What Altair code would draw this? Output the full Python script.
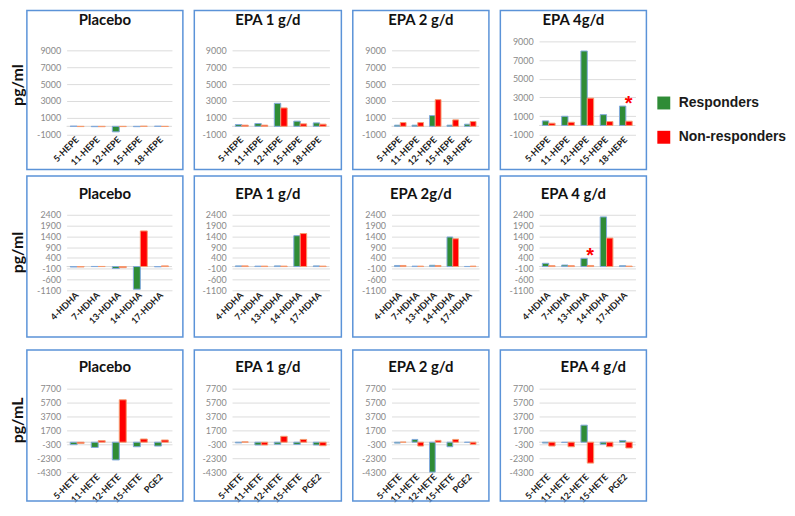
import altair as alt
import pandas as pd

SERIES = ["Responders", "Non-responders"]
FILL = ["#2f8c36", "#ff0000"]
EDGE = ["#82a9dc", "#f59a6e"]
FRAME = "#5b93d8"

HEPE = ["5-HEPE", "11-HEPE", "12-HEPE", "15-HEPE", "18-HEPE"]
HDHA = ["4-HDHA", "7-HDHA", "13-HDHA", "14-HDHA", "17-HDHA"]
HETE = ["5-HETE", "11-HETE", "12-HETE", "15-HETE", "PGE2"]

ROW1_TITLES = ["Placebo", "EPA 1 g/d", "EPA 2 g/d", "EPA 4g/d"]
ROW2_TITLES = ["Placebo", "EPA 1 g/d", "EPA 2g/d", "EPA 4 g/d"]
ROW3_TITLES = ["Placebo", "EPA 1 g/d", "EPA 2 g/d", "EPA 4 g/d"]
UNITS = ["pg/ml", "pg/ml", "pg/mL"]

HEPE_TICKS = [-1000, 1000, 3000, 5000, 7000, 9000]
HDHA_TICKS = [-1100, -600, -100, 400, 900, 1400, 1900, 2400]
HETE_TICKS = [-4300, -2300, -300, 1700, 3700, 5700, 7700]

# HEPE (row 1): responders / non-responders
hepe_pl_r = [20, -40, -650, -40, 10]
hepe_pl_n = [-30, -40, -30, 10, -20]
hepe_1_r = [215, 330, 2725, 610, 410]
hepe_1_n = [140, 140, 2180, 295, 255]
hepe_2_r = [140, 140, 1275, 140, 255]
hepe_2_n = [450, 450, 3160, 765, 570]
hepe_4_r = [485, 980, 7970, 1155, 2075]
hepe_4_n = [240, 340, 2920, 415, 450]

# HDHA (row 2)
hdha_pl_r = [-20, 5, -90, -1050, -10]
hdha_pl_n = [-20, 5, -50, 1650, 30]
hdha_1_r = [30, 20, 30, 1430, 30]
hdha_1_n = [30, 20, 20, 1530, 20]
hdha_2_r = [50, 20, 60, 1370, 5]
hdha_2_n = [50, 20, 50, 1290, 20]
hdha_4_r = [150, 70, 380, 2300, 40]
hdha_4_n = [40, 40, 50, 1320, 20]

# HETE / PGE2 (row 3)
hete_pl_r = [-350, -750, -2550, -650, -550]
hete_pl_n = [-170, 220, 6100, 460, 320]
hete_1_r = [-100, -400, -300, -320, -400]
hete_1_n = [50, -400, 850, 400, -500]
hete_2_r = [-130, 400, -4300, -650, -20]
hete_2_n = [20, -550, 260, 400, -310]
hete_4_r = [-120, -50, 2450, -300, 250]
hete_4_n = [-550, -650, -3000, -650, -830]

# significance marks (category of the responders bar)
STAR_ROW1 = "18-HEPE"
STAR_ROW2 = "13-HDHA"

# layout (pixels)
COL_W = [106, 98, 88, 97]
COL_L = [40, 38, 39, 39]
COL_R = [11, 12, 10, 11]


def panel(title, cats, resp, non, ticks, col, h, top, bottom, title_y,
          unit=None, unit_y=None, star=None, title_dx=0, ytop=0):
    w, L, R = COL_W[col], COL_L[col], COL_R[col]
    n = len(cats)
    df = pd.DataFrame({"cat": cats * 2,
                       "s": [SERIES[0]] * n + [SERIES[1]] * n,
                       "v": resp + non})
    one = pd.DataFrame({"t": [title]})

    xenc = alt.X("cat:N", sort=cats,
                 scale=alt.Scale(paddingInner=0.34, paddingOuter=0.17),
                 axis=alt.Axis(title=None, labelAngle=-45, labelAlign="right",
                               labelBaseline="middle", labelFont="Lato",
                               labelFontWeight="bold", labelFontSize=9,
                               labelColor="#1a1a1a", domain=False, ticks=False,
                               labelPadding=3, labelOverlap=False))
    xoff = alt.XOffset("s:N", sort=SERIES, scale=alt.Scale(domain=SERIES))
    yenc = alt.Y("v:Q", scale=alt.Scale(domain=[ticks[0], ticks[-1]], nice=False,
                                        zero=False, range=[h, ytop]),
                 axis=alt.Axis(values=ticks, tickCount=len(ticks) + 2, title=None,
                               grid=True, gridColor="#dcdcdc",
                               domain=False, ticks=False, labelColor="#8a8a8a",
                               labelFont="Lato", labelFontSize=9, labelPadding=6,
                               labelOverlap=False, labelFlush=False,
                               labelExpr="'' + datum.value"))

    frame = alt.Chart(one).mark_rect(fillOpacity=0, stroke=FRAME, strokeWidth=1.5).encode(
        x=alt.value(-L), x2=alt.value(w + R), y=alt.value(-top), y2=alt.value(h + bottom))
    zero = alt.Chart(one).mark_rule(color="#d9d9d9", strokeWidth=1).encode(y=alt.datum(0))
    bars = alt.Chart(df).mark_bar(strokeWidth=1).encode(
        x=xenc, xOffset=xoff, y=yenc,
        color=alt.Color("s:N", scale=alt.Scale(domain=SERIES, range=FILL),
                        legend=alt.Legend(title=None, orient="none", legendX=594, legendY=55,
                                          symbolType="square", symbolSize=169,
                                          symbolStrokeWidth=0, labelFont="Liberation Sans",
                                          labelFontWeight="bold", labelFontSize=14,
                                          labelColor="#1a1a1a", labelOffset=8,
                                          rowPadding=20.5, padding=0, labelLimit=0)),
        stroke=alt.Stroke("s:N", scale=alt.Scale(domain=SERIES, range=EDGE), legend=None))
    ttl = alt.Chart(one).mark_text(font="Lato", fontWeight="bold", fontSize=15,
                                   color="#111111", baseline="middle", align="center").encode(
        x=alt.value((w + R - L) / 2 + title_dx), y=alt.value(-top + title_y), text="t:N")
    layers = [frame, zero, bars]
    if star is not None:
        sdf = df[(df["cat"] == star) & (df["s"] == SERIES[0])].assign(mark="*")
        layers.append(alt.Chart(sdf).mark_text(fontSize=20, fontWeight="bold", color="#ff0000",
                                               font="Liberation Sans", baseline="alphabetic",
                                               dy=4, dx=6).encode(
            x=xenc, xOffset=xoff, y=yenc, text="mark:N"))
    layers.append(ttl)
    if unit is not None:
        udf = pd.DataFrame({"u": [unit]})
        layers.append(alt.Chart(udf).mark_text(font="Lato", fontWeight="bold", fontSize=16,
                                               angle=270, color="#111111", baseline="middle",
                                               align="center").encode(
            x=alt.value(-49), y=alt.value(-top + unit_y), text="u:N"))
    return alt.layer(*layers).properties(width=w, height=h)


RES = dict(x="independent", y="independent", xOffset="independent",
           color="shared", stroke="shared")

r1_vals = [(hepe_pl_r, hepe_pl_n), (hepe_1_r, hepe_1_n), (hepe_2_r, hepe_2_n), (hepe_4_r, hepe_4_n)]
r2_vals = [(hdha_pl_r, hdha_pl_n), (hdha_1_r, hdha_1_n), (hdha_2_r, hdha_2_n), (hdha_4_r, hdha_4_n)]
r3_vals = [(hete_pl_r, hete_pl_n), (hete_1_r, hete_1_n), (hete_2_r, hete_2_n), (hete_4_r, hete_4_n)]

row1 = []
for c in range(4):
    yt = 0 if c == 3 else 9
    row1.append(panel(ROW1_TITLES[c], HEPE, r1_vals[c][0], r1_vals[c][1], HEPE_TICKS, c,
                      94, 31, 35, 10,
                      unit=UNITS[0] if c == 0 else None, unit_y=75,
                      star=STAR_ROW1 if c == 3 else None, ytop=yt))
row2 = []
for c in range(4):
    row2.append(panel(ROW2_TITLES[c], HDHA, r2_vals[c][0], r2_vals[c][1], HDHA_TICKS, c,
                      76, 39, 47, 18,
                      unit=UNITS[1] if c == 0 else None, unit_y=77,
                      star=STAR_ROW2 if c == 3 else None))
row3 = []
for c in range(4):
    row3.append(panel(ROW3_TITLES[c], HETE, r3_vals[c][0], r3_vals[c][1], HETE_TICKS, c,
                      84, 39, 29, 17,
                      unit=UNITS[2] if c == 0 else None, unit_y=71,
                      title_dx=20 if c == 3 else 0))

R1 = alt.hconcat(*row1, spacing=9.5).resolve_scale(**RES)
R2 = alt.hconcat(*row2, spacing=9.5).resolve_scale(**RES)
R3 = alt.hconcat(*row3, spacing=9.5).resolve_scale(**RES)

top = alt.vconcat(R1, R2, spacing=4.5).resolve_scale(**RES)
chart = alt.vconcat(top, R3, spacing=10.5).resolve_scale(**RES).properties(
    padding={"left": 2, "top": 0, "right": 0, "bottom": 0}
).configure_view(stroke=None)

chart.save("out.html", embed_options={"renderer": "svg", "actions": False})
